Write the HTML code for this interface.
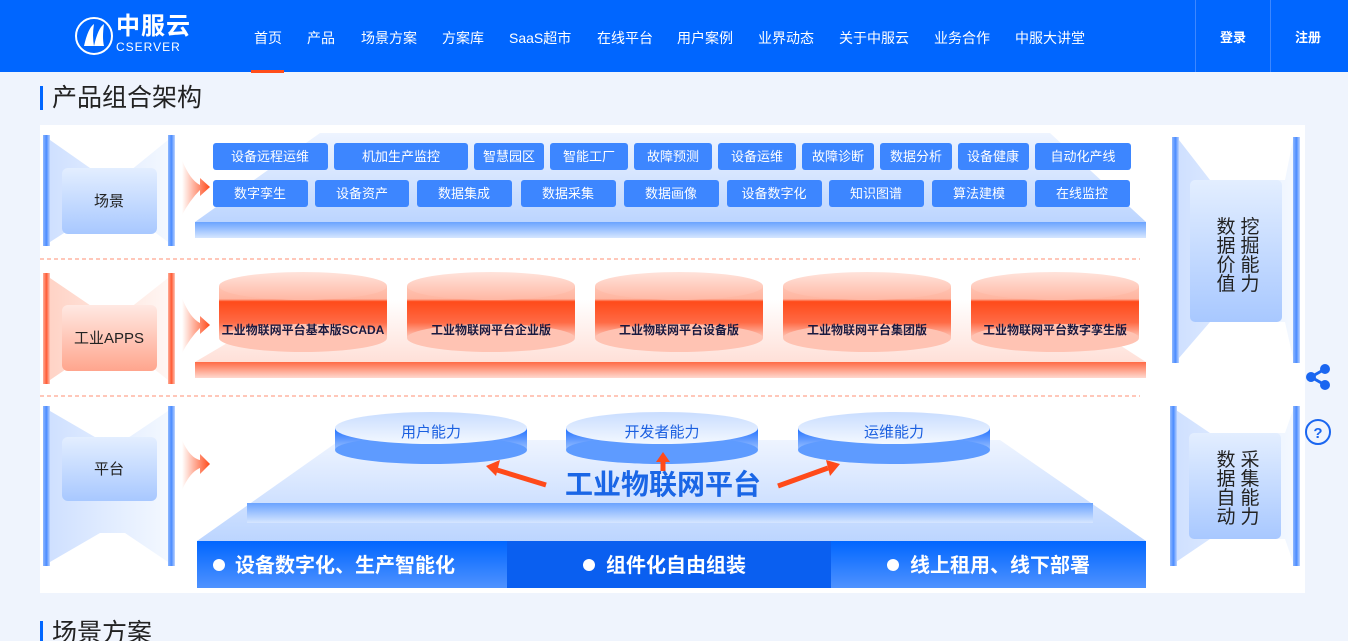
<!DOCTYPE html>
<html><head><meta charset="utf-8"><style>
*{margin:0;padding:0;box-sizing:border-box}
html,body{width:1348px;height:641px;overflow:hidden}
body{background:#eff4fd;font-family:"Liberation Sans","Noto Sans CJK SC",sans-serif;position:relative}
.hdr{position:absolute;left:0;top:0;width:1348px;height:72px;background:#0066ff}
.nav{position:absolute;top:28px;color:#fff;font-size:14px;white-space:nowrap}
.t{position:absolute;font-family:"Liberation Sans","Noto Sans CJK SC",sans-serif;line-height:1}
</style></head><body>
<div class="hdr">
 <svg style="position:absolute;left:74px;top:16px" width="40" height="40"><circle cx="20" cy="20" r="18" fill="none" stroke="#fff" stroke-width="2"/><path d="M10 30 Q14 12 20 8 Q18 20 20 30 Z M20 30 Q24 12 30 8 Q28 22 30 30Z" fill="#fff"/></svg>
 <div class="t" style="left:116px;top:15px;color:#fff;font-size:24px;font-weight:bold;letter-spacing:1px">中服云</div>
 <div class="t" style="left:116px;top:41px;color:#fff;font-size:12px;letter-spacing:1px">CSERVER</div>
 <div class="nav" style="left:254px">首页</div>
 <div style="position:absolute;left:251px;top:70px;width:33px;height:3px;background:#ff4d1a"></div>
 <div class="nav" style="left:307px">产品</div>
 <div class="nav" style="left:361px">场景方案</div>
 <div class="nav" style="left:442px">方案库</div>
 <div class="nav" style="left:509px">SaaS超市</div>
 <div class="nav" style="left:597px">在线平台</div>
 <div class="nav" style="left:677px">用户案例</div>
 <div class="nav" style="left:758px">业界动态</div>
 <div class="nav" style="left:839px">关于中服云</div>
 <div class="nav" style="left:934px">业务合作</div>
 <div class="nav" style="left:1015px">中服大讲堂</div>
 <div style="position:absolute;left:1195px;top:0;width:1px;height:72px;background:#3d87ff"></div>
 <div style="position:absolute;left:1270px;top:0;width:1px;height:72px;background:#3d87ff"></div>
 <div class="nav" style="left:1220px;top:27px;font-size:13px;font-weight:bold">登录</div>
 <div class="nav" style="left:1295px;top:27px;font-size:13px;font-weight:bold">注册</div>
</div>
<div style="position:absolute;left:40px;top:86px;width:3px;height:24px;background:#0066ff"></div>
<div class="t" style="left:52px;top:86px;font-size:25px;color:#222">产品组合架构</div>
<div style="position:absolute;left:40px;top:621px;width:3px;height:24px;background:#0066ff"></div>
<div class="t" style="left:52px;top:621px;font-size:25px;color:#222">场景方案</div>
<div style="position:absolute;left:40px;top:125px;width:1265px;height:468px;background:#fff"></div>

<svg style="position:absolute;left:0;top:0" width="1348" height="641">
<defs>
 <linearGradient id="bb" x1="0" y1="0" x2="0" y2="1"><stop offset="0" stop-color="#e3eeff"/><stop offset="1" stop-color="#a8c8ff"/></linearGradient>
 <linearGradient id="rb" x1="0" y1="0" x2="0" y2="1"><stop offset="0" stop-color="#ffe9e3"/><stop offset="1" stop-color="#ffa58d"/></linearGradient>
 <linearGradient id="wingb" x1="0" y1="0" x2="1" y2="0"><stop offset="0" stop-color="#cfe0ff"/><stop offset="1" stop-color="#f3f8ff"/></linearGradient>
 <linearGradient id="wingr" x1="0" y1="0" x2="1" y2="0"><stop offset="0" stop-color="#ffd3c6"/><stop offset="1" stop-color="#fff6f3"/></linearGradient>
 <linearGradient id="barb" x1="0" y1="0" x2="1" y2="0"><stop offset="0" stop-color="#8fb8ff"/><stop offset=".5" stop-color="#4b8cff"/><stop offset="1" stop-color="#bcd4ff"/></linearGradient>
 <linearGradient id="barr" x1="0" y1="0" x2="1" y2="0"><stop offset="0" stop-color="#ffad99"/><stop offset=".5" stop-color="#ff5a33"/><stop offset="1" stop-color="#ffc7b8"/></linearGradient>
 <linearGradient id="slabb" x1="0" y1="0" x2="0" y2="1"><stop offset="0" stop-color="#6aa3ff"/><stop offset="1" stop-color="#d6e6ff"/></linearGradient>
 <linearGradient id="slabr" x1="0" y1="0" x2="0" y2="1"><stop offset="0" stop-color="#ff6a45"/><stop offset="1" stop-color="#ffd9cf"/></linearGradient>
 <linearGradient id="trap" x1="0" y1="0" x2="0" y2="1"><stop offset="0" stop-color="#eef4ff"/><stop offset="1" stop-color="#bcd5ff"/></linearGradient>
 <linearGradient id="trapr" x1="0" y1="0" x2="0" y2="1"><stop offset="0" stop-color="#fff"/><stop offset="1" stop-color="#ffe0d8"/></linearGradient>
 <linearGradient id="cyl" x1="0" y1="0" x2="0" y2="1"><stop offset="0" stop-color="#ffc4b3"/><stop offset=".25" stop-color="#ffb5a0"/><stop offset=".3" stop-color="#ff4a1a"/><stop offset=".7" stop-color="#ff6a45"/><stop offset="1" stop-color="#ffc9bb"/></linearGradient>
 <linearGradient id="cyltop" x1="0" y1="0" x2="0" y2="1"><stop offset="0" stop-color="#ffe3db"/><stop offset="1" stop-color="#ffb7a3"/></linearGradient>
 <linearGradient id="disk" x1="0" y1="0" x2="0" y2="1"><stop offset="0" stop-color="#1f6fff"/><stop offset="1" stop-color="#9cc2ff"/></linearGradient>
 <linearGradient id="disktop" x1="0" y1="0" x2="0" y2="1"><stop offset="0" stop-color="#c9ddff"/><stop offset="1" stop-color="#f3f8ff"/></linearGradient>
 <linearGradient id="bar" x1="0" y1="0" x2="0" y2="1"><stop offset="0" stop-color="#0066ff"/><stop offset="1" stop-color="#4f92ff"/></linearGradient>
 <linearGradient id="arr" x1="0" y1="0" x2="1" y2="0"><stop offset="0" stop-color="#fff"/><stop offset="1" stop-color="#ff4a1a"/></linearGradient>
</defs>

<g>
 <polygon points="50,140 100,175 125,175 168,140 168,242 125,210 100,210 50,242" fill="url(#wingb)"/>
 <rect x="43" y="135" width="7" height="111" fill="url(#barb)"/><rect x="168" y="135" width="7" height="111" fill="url(#barb)"/>
 <rect x="62" y="168" width="95" height="66" rx="6" fill="url(#bb)"/>
 <text x="109" y="206" font-size="15" text-anchor="middle" fill="#222">场景</text>
</g>
<g>
 <polygon points="50,278 100,312 125,312 168,278 168,380 125,346 100,346 50,380" fill="url(#wingr)"/>
 <rect x="43" y="273" width="7" height="111" fill="url(#barr)"/><rect x="168" y="273" width="7" height="111" fill="url(#barr)"/>
 <rect x="62" y="305" width="95" height="66" rx="6" fill="url(#rb)"/>
 <text x="109" y="343" font-size="15" text-anchor="middle" fill="#222">工业APPS</text>
</g>
<g>
 <polygon points="50,411 100,440 125,440 168,411 168,562 125,533 100,533 50,562" fill="url(#wingb)"/>
 <rect x="43" y="406" width="7" height="160" fill="url(#barb)"/><rect x="168" y="406" width="7" height="160" fill="url(#barb)"/>
 <rect x="62" y="437" width="95" height="64" rx="6" fill="url(#bb)"/>
 <text x="109" y="474" font-size="15" text-anchor="middle" fill="#222">平台</text>
</g>
<g>
 <path d="M182 160 Q190 180 200 185 L200 178 L210 187 L200 196 L200 190 Q190 200 182 215 Z" fill="url(#arr)"/>
 <path d="M182 298 Q190 318 200 323 L200 316 L210 325 L200 334 L200 328 Q190 338 182 353 Z" fill="url(#arr)"/>
 <path d="M182 440 Q190 458 200 460 L200 454 L210 464 L200 474 L200 468 Q190 472 182 490 Z" fill="url(#arr)"/>
</g>
<!-- right funnels -->
<g>
 <polygon points="1179,140 1210,180 1285,180 1293,140 1293,358 1285,322 1210,322 1179,358" fill="url(#wingb)"/>
 <rect x="1172" y="137" width="7" height="226" fill="url(#barb)"/><rect x="1293" y="137" width="7" height="226" fill="url(#barb)"/>
 <rect x="1190" y="180" width="92" height="142" rx="5" fill="url(#bb)"/>
 <g font-size="19" fill="#222" text-anchor="middle"><text x="1226" y="233">数</text><text x="1226" y="252">据</text><text x="1226" y="271">价</text><text x="1226" y="290">值</text>
 <text x="1250" y="233">挖</text><text x="1250" y="252">掘</text><text x="1250" y="271">能</text><text x="1250" y="290">力</text></g>
</g>
<g>
 <polygon points="1176,410 1210,433 1285,433 1293,410 1293,562 1285,539 1210,539 1176,562" fill="url(#wingb)"/>
 <rect x="1170" y="406" width="7" height="160" fill="url(#barb)"/><rect x="1293" y="406" width="7" height="160" fill="url(#barb)"/>
 <rect x="1189" y="433" width="92" height="106" rx="5" fill="url(#bb)"/>
 <g font-size="19" fill="#222" text-anchor="middle"><text x="1226" y="466">数</text><text x="1226" y="485">据</text><text x="1226" y="504">自</text><text x="1226" y="523">动</text>
 <text x="1250" y="466">采</text><text x="1250" y="485">集</text><text x="1250" y="504">能</text><text x="1250" y="523">力</text></g>
</g>

<polygon points="195,222 320,133 1050,133 1146,222" fill="url(#trap)"/>
<polygon points="195,222 1146,222 1146,238 195,238" fill="url(#slabb)"/>
<line x1="40" y1="259" x2="1140" y2="259" stroke="#ff8f73" stroke-dasharray="4,3"/>
<line x1="40" y1="396" x2="1140" y2="396" stroke="#ff8f73" stroke-dasharray="4,3"/>
<polygon points="195,362 300,300 1050,300 1146,362" fill="url(#trapr)"/>
<rect x="195" y="362" width="951" height="16" fill="url(#slabr)"/>
<polygon points="197,541 340,440 1000,440 1146,541" fill="url(#trap)"/>
<rect x="247" y="503" width="846" height="20" fill="url(#slabb)"/>
<rect x="197" y="541" width="949" height="47" fill="url(#bar)"/>
<rect x="507" y="541" width="324" height="47" fill="#0a5ff0"/>
<g fill="#fff" font-size="20" font-weight="bold">
 <circle cx="219" cy="565" r="6"/><text x="235" y="572">设备数字化、生产智能化</text>
 <circle cx="589" cy="565" r="6"/><text x="606" y="572">组件化自由组装</text>
 <circle cx="893" cy="565" r="6"/><text x="910" y="572">线上租用、线下部署</text>
</g>

<g font-size="13" fill="#fff" text-anchor="middle">
 <g fill="#3d86ff">
 <rect x="213" y="143" width="115" height="27" rx="3"/><rect x="334" y="143" width="134" height="27" rx="3"/><rect x="474" y="143" width="70" height="27" rx="3"/><rect x="550" y="143" width="78" height="27" rx="3"/><rect x="634" y="143" width="78" height="27" rx="3"/><rect x="718" y="143" width="78" height="27" rx="3"/><rect x="802" y="143" width="72" height="27" rx="3"/><rect x="880" y="143" width="72" height="27" rx="3"/><rect x="958" y="143" width="71" height="27" rx="3"/><rect x="1035" y="143" width="96" height="27" rx="3"/>
 <rect x="213" y="180" width="95" height="27" rx="3"/><rect x="315" y="180" width="94" height="27" rx="3"/><rect x="417" y="180" width="95" height="27" rx="3"/><rect x="521" y="180" width="95" height="27" rx="3"/><rect x="624" y="180" width="95" height="27" rx="3"/><rect x="727" y="180" width="95" height="27" rx="3"/><rect x="829" y="180" width="95" height="27" rx="3"/><rect x="932" y="180" width="95" height="27" rx="3"/><rect x="1035" y="180" width="95" height="27" rx="3"/>
 </g>
 <text x="270" y="161">设备远程运维</text><text x="401" y="161">机加生产监控</text><text x="509" y="161">智慧园区</text><text x="589" y="161">智能工厂</text><text x="673" y="161">故障预测</text><text x="757" y="161">设备运维</text><text x="838" y="161">故障诊断</text><text x="916" y="161">数据分析</text><text x="993" y="161">设备健康</text><text x="1083" y="161">自动化产线</text>
 <text x="260" y="198">数字孪生</text><text x="362" y="198">设备资产</text><text x="464" y="198">数据集成</text><text x="568" y="198">数据采集</text><text x="671" y="198">数据画像</text><text x="774" y="198">设备数字化</text><text x="876" y="198">知识图谱</text><text x="979" y="198">算法建模</text><text x="1082" y="198">在线监控</text>
</g>
<g font-size="12" font-weight="bold" fill="#1a1a40" text-anchor="middle">
 <g transform="translate(303,0)"><rect x="-84" y="286" width="168" height="52" fill="url(#cyl)"/><ellipse cx="0" cy="338" rx="84" ry="14" fill="#ffc3b3"/><ellipse cx="0" cy="286" rx="84" ry="14" fill="url(#cyltop)"/><text x="0" y="334">工业物联网平台基本版SCADA</text></g>
 <g transform="translate(491,0)"><rect x="-84" y="286" width="168" height="52" fill="url(#cyl)"/><ellipse cx="0" cy="338" rx="84" ry="14" fill="#ffc3b3"/><ellipse cx="0" cy="286" rx="84" ry="14" fill="url(#cyltop)"/><text x="0" y="334">工业物联网平台企业版</text></g>
 <g transform="translate(679,0)"><rect x="-84" y="286" width="168" height="52" fill="url(#cyl)"/><ellipse cx="0" cy="338" rx="84" ry="14" fill="#ffc3b3"/><ellipse cx="0" cy="286" rx="84" ry="14" fill="url(#cyltop)"/><text x="0" y="334">工业物联网平台设备版</text></g>
 <g transform="translate(867,0)"><rect x="-84" y="286" width="168" height="52" fill="url(#cyl)"/><ellipse cx="0" cy="338" rx="84" ry="14" fill="#ffc3b3"/><ellipse cx="0" cy="286" rx="84" ry="14" fill="url(#cyltop)"/><text x="0" y="334">工业物联网平台集团版</text></g>
 <g transform="translate(1055,0)"><rect x="-84" y="286" width="168" height="52" fill="url(#cyl)"/><ellipse cx="0" cy="338" rx="84" ry="14" fill="#ffc3b3"/><ellipse cx="0" cy="286" rx="84" ry="14" fill="url(#cyltop)"/><text x="0" y="334">工业物联网平台数字孪生版</text></g>
</g>
<g font-size="15" fill="#1a5fe0" text-anchor="middle">
 <g transform="translate(431,0)"><rect x="-96" y="428" width="192" height="22" fill="url(#disk)"/><ellipse cx="0" cy="450" rx="96" ry="14" fill="#5e9bff"/><ellipse cx="0" cy="428" rx="96" ry="16" fill="url(#disktop)"/><text x="0" y="437">用户能力</text></g>
 <g transform="translate(662,0)"><rect x="-96" y="428" width="192" height="22" fill="url(#disk)"/><ellipse cx="0" cy="450" rx="96" ry="14" fill="#5e9bff"/><ellipse cx="0" cy="428" rx="96" ry="16" fill="url(#disktop)"/><text x="0" y="437">开发者能力</text></g>
 <g transform="translate(894,0)"><rect x="-96" y="428" width="192" height="22" fill="url(#disk)"/><ellipse cx="0" cy="450" rx="96" ry="14" fill="#5e9bff"/><ellipse cx="0" cy="428" rx="96" ry="16" fill="url(#disktop)"/><text x="0" y="437">运维能力</text></g>
</g>
<g stroke="#ff4a1a" stroke-width="5" fill="#ff4a1a">
 <line x1="546" y1="485" x2="497" y2="470"/><polygon points="486,466 500,460 496,476" stroke="none"/>
 <line x1="663" y1="471" x2="663" y2="462"/><polygon points="656,462 670,462 663,452" stroke="none"/>
 <line x1="778" y1="486" x2="828" y2="468"/><polygon points="840,464 826,460 830,476" stroke="none"/>
</g>
<text x="663" y="494" font-size="28" font-weight="bold" fill="#1a66e6" text-anchor="middle">工业物联网平台</text>
<g fill="#1a66f0"><circle cx="1311" cy="377" r="5"/><circle cx="1325" cy="369" r="5"/><circle cx="1325" cy="385" r="5"/><path d="M1311 377 L1325 369 M1311 377 L1325 385" stroke="#1a66f0" stroke-width="3"/></g>
<circle cx="1318" cy="432" r="12" fill="none" stroke="#1a66f0" stroke-width="2"/>
<text x="1318" y="438" font-size="15" font-weight="bold" fill="#1a66f0" text-anchor="middle">?</text>
</svg>
</body></html>
